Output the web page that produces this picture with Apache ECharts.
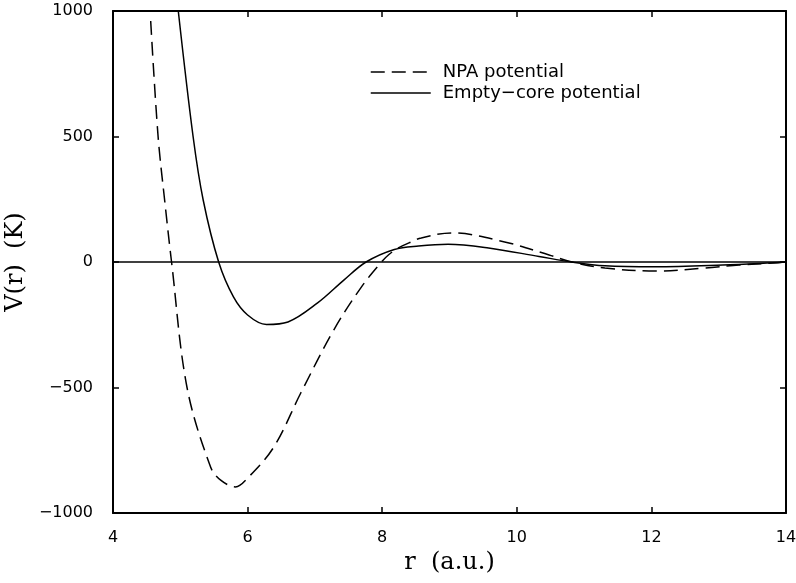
<!DOCTYPE html>
<html>
<head>
<meta charset="utf-8">
<script src="https://cdn.jsdelivr.net/npm/echarts@6/dist/echarts.min.js"></script>
<style>
html, body { margin: 0; padding: 0; background: #fff; }
#chart { width: 796px; height: 583px; }
</style>
</head>
<body>
<div id="chart"></div>
<script>
// values
var npaR = [4.56, 4.67, 4.77, 4.87, 5.10, 5.45, 5.60, 5.82, 6.0, 6.39, 6.79, 7.28, 7.69, 7.99, 8.1, 8.24, 8.43, 8.58, 9.03, 9.82, 10.48, 10.82, 11.31, 12.06, 12.8, 13.3, 13.8, 14.0];
var npaV = [960, 500, 240, 0, -500, -817, -869, -896, -861, -737, -522, -271, -100, 0, 30, 56, 80, 96, 116, 80, 28, 0, -24, -36, -24, -12, -4, 0];

var coreR = [4.97, 5.19, 5.34, 5.57, 5.79, 6.0, 6.28, 6.60, 7.04, 7.43, 7.76, 8.18, 8.54, 8.98, 9.58, 10.33, 10.82, 11.31, 12.06, 13.06, 13.8, 14.0];
var coreV = [1000, 500, 247, 0, -139, -211, -249, -239, -163, -72, 0, 50, 64, 71, 56, 22, 0, -15, -19, -12, -3, 0];

var xTicks = [4, 6, 8, 10, 12, 14];
var yTicks = [-1000, -500, 0, 500, 1000];

function pairs(xs, ys){
	var out = [];
	for(var i = 0; i < xs.length; i++)
		out.push([xs[i], ys[i]]);
	return out;
}

var chart = echarts.init(document.getElementById('chart'));

var tickFont = {fontFamily: 'DejaVu Sans', fontSize: 16, color: '#000'};
var axisLine = {show: true, onZero: false, lineStyle: {color: '#000', width: 2}};
var tick = {show: true, inside: true, length: 6, lineStyle: {color: '#000', width: 1.5}};
var nameFont = {fontFamily: 'DejaVu Serif', fontSize: 24, color: '#000'};

var option = {
	animation: false,
	backgroundColor: '#fff',
	grid: {left: 113, right: 10, top: 11, bottom: 70, containLabel: false, outerBoundsMode: 'none'},
	legend: {
		orient: 'vertical',
		left: 365,
		top: 58,
		itemWidth: 60,
		itemHeight: 18,
		itemGap: 3,
		itemStyle: {opacity: 0},
		lineStyle: {opacity: 1, width: 1.5},
		textStyle: {fontFamily: 'DejaVu Sans', fontSize: 18, lineHeight: 18, color: '#000', padding: [0, 0, 0, 7]},
		data: ['NPA potential', 'Empty\u2212core potential']
	},
	xAxis: [
		{
			type: 'value', min: 4, max: 14, interval: 2,
			axisLine: axisLine,
			axisTick: tick,
			axisLabel: Object.assign({margin: 17, formatter: function(v){ return xTicks.indexOf(v) >= 0 ? v : ''; }}, tickFont),
			splitLine: {show: false},
			name: 'r  (a.u.)',
			nameLocation: 'middle',
			nameGap: 36,
			nameTextStyle: nameFont
		},
		{
			type: 'value', min: 4, max: 14, interval: 2, position: 'top',
			axisLine: axisLine,
			axisTick: tick,
			axisLabel: {show: false},
			splitLine: {show: false}
		}
	],
	yAxis: [
		{
			type: 'value', min: -1000, max: 1000, interval: 500,
			axisLine: axisLine,
			axisTick: tick,
			axisLabel: Object.assign({margin: 20, formatter: function(v){ return yTicks.indexOf(v) >= 0 ? String(v).replace('-', '\u2212') : ''; }}, tickFont),
			splitLine: {show: false},
			name: 'V(r)  (K)',
			nameLocation: 'middle',
			nameRotate: 90,
			nameGap: 76,
			nameTextStyle: nameFont
		},
		{
			type: 'value', min: -1000, max: 1000, interval: 500, position: 'right',
			axisLine: axisLine,
			axisTick: tick,
			axisLabel: {show: false},
			splitLine: {show: false}
		}
	],
	series: [
		{
			name: 'NPA potential',
			type: 'line',
			data: pairs(npaR, npaV),
			smooth: 0.35,
			symbol: 'none',
			clip: true,
			color: '#000',
			lineStyle: {color: '#000', width: 1.5, type: [14, 7]},
			markLine: {
				silent: true,
				symbol: ['none', 'none'],
				label: {show: false},
				lineStyle: {color: '#000', width: 1.5, type: 'solid'},
				data: [{yAxis: 0}]
			}
		},
		{
			name: 'Empty\u2212core potential',
			type: 'line',
			data: pairs(coreR, coreV),
			smooth: 0.35,
			symbol: 'none',
			clip: true,
			color: '#000',
			lineStyle: {color: '#000', width: 1.5, type: 'solid'}
		}
	]
};

chart.setOption(option);
</script>
</body>
</html>
